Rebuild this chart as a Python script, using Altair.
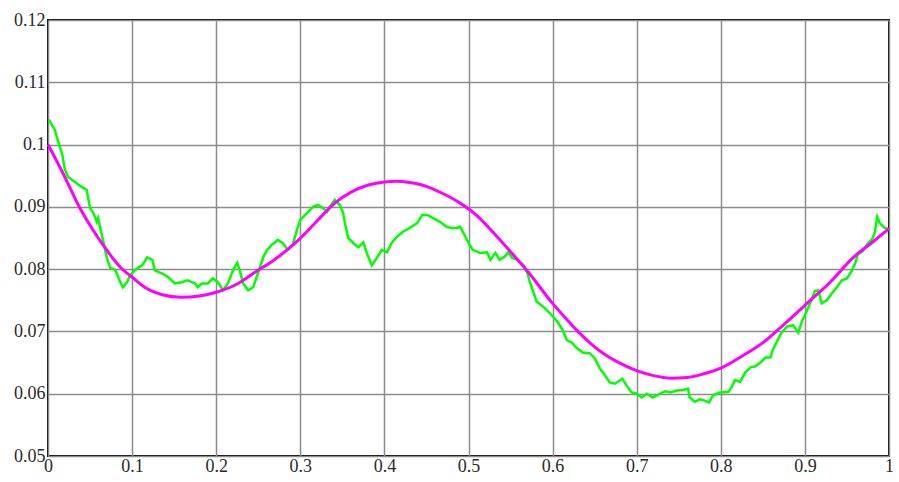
import altair as alt
import pandas as pd

green_x = [0.001, 0.008, 0.012, 0.017, 0.020, 0.024, 0.032, 0.040, 0.046, 0.050, 0.054, 0.058, 0.0595, 0.064,
           0.070, 0.074, 0.080, 0.086, 0.089, 0.094, 0.0975, 0.103, 0.107, 0.112, 0.118, 0.124, 0.127, 0.136,
           0.143, 0.151, 0.159, 0.166, 0.175, 0.178, 0.183, 0.190, 0.196, 0.202, 0.208, 0.214, 0.220, 0.225,
           0.228, 0.232, 0.238, 0.244, 0.248, 0.252, 0.256, 0.260, 0.266, 0.270, 0.273, 0.279, 0.285, 0.291,
           0.296, 0.300, 0.308, 0.315, 0.321, 0.327, 0.332, 0.335, 0.341, 0.347, 0.351, 0.353, 0.357, 0.363,
           0.369, 0.375, 0.379, 0.385, 0.391, 0.397, 0.403, 0.409, 0.415, 0.422, 0.430, 0.439, 0.445, 0.451,
           0.458, 0.466, 0.474, 0.480, 0.486, 0.490, 0.494, 0.500, 0.505, 0.514, 0.522, 0.526, 0.532, 0.537,
           0.543, 0.547, 0.552, 0.558, 0.565, 0.570, 0.573, 0.581, 0.591, 0.599, 0.606, 0.612, 0.617, 0.623,
           0.629, 0.636, 0.644, 0.650, 0.656, 0.662, 0.668, 0.674, 0.683, 0.688, 0.694, 0.700, 0.706, 0.712,
           0.719, 0.728, 0.734, 0.740, 0.748, 0.755, 0.761, 0.763, 0.769, 0.775, 0.781, 0.786, 0.791, 0.799,
           0.809, 0.813, 0.817, 0.823, 0.829, 0.835, 0.841, 0.847, 0.853, 0.859, 0.862, 0.868, 0.872, 0.879,
           0.886, 0.892, 0.897, 0.900, 0.906, 0.912, 0.916, 0.920, 0.926, 0.932, 0.938, 0.944, 0.950, 0.956,
           0.960, 0.963, 0.969, 0.974, 0.980, 0.983, 0.986, 0.989, 0.995, 0.999]
green_y = [0.1040, 0.1024, 0.1005, 0.0984, 0.0960, 0.0948, 0.0940, 0.0932, 0.0927, 0.0898, 0.0890, 0.0876, 0.0882, 0.0855,
           0.0818, 0.0802, 0.0799, 0.0779, 0.0771, 0.0779, 0.0790, 0.0798, 0.0802, 0.0806, 0.0819, 0.0815, 0.0798, 0.0793,
           0.0787, 0.0777, 0.0779, 0.0782, 0.0777, 0.0771, 0.0777, 0.0777, 0.0785, 0.0779, 0.0766, 0.0777, 0.0798, 0.0810,
           0.0798, 0.0777, 0.0766, 0.0771, 0.0787, 0.0803, 0.0819, 0.0830, 0.0839, 0.0843, 0.0847, 0.0842, 0.0831, 0.0839,
           0.0863, 0.0879, 0.0890, 0.0900, 0.0903, 0.0898, 0.0892, 0.0900, 0.0911, 0.0903, 0.0890, 0.0874, 0.0850, 0.0842,
           0.0835, 0.0843, 0.0826, 0.0806, 0.0818, 0.0831, 0.0827, 0.0843, 0.0852, 0.0860, 0.0866, 0.0874, 0.0887, 0.0887,
           0.0882, 0.0876, 0.0868, 0.0866, 0.0866, 0.0868, 0.0858, 0.0842, 0.0831, 0.0826, 0.0827, 0.0815, 0.0826, 0.0815,
           0.0820, 0.0827, 0.0818, 0.0815, 0.0807, 0.0794, 0.0779, 0.0748, 0.0737, 0.0726, 0.0715, 0.0702, 0.0686, 0.0682,
           0.0673, 0.0666, 0.0665, 0.0657, 0.0641, 0.0630, 0.0618, 0.0616, 0.0624, 0.0613, 0.0602, 0.0600, 0.0594, 0.0600,
           0.0594, 0.0600, 0.0604, 0.0602, 0.0605, 0.0606, 0.0608, 0.0594, 0.0587, 0.0591, 0.0589, 0.0586, 0.0598, 0.0602,
           0.0603, 0.0611, 0.0622, 0.0619, 0.0634, 0.0642, 0.0644, 0.0650, 0.0658, 0.0658, 0.0671, 0.0687, 0.0698, 0.0708,
           0.0710, 0.0698, 0.0718, 0.0726, 0.0745, 0.0765, 0.0766, 0.0745, 0.0750, 0.0761, 0.0771, 0.0782, 0.0785, 0.0798,
           0.0810, 0.0824, 0.0829, 0.0840, 0.0848, 0.0858, 0.0884, 0.0874, 0.0866, 0.0865]

magenta_x = [0.0, 0.02, 0.036, 0.052, 0.068, 0.086, 0.1, 0.115, 0.136, 0.158, 0.18, 0.2, 0.226, 0.246, 0.268,
             0.298, 0.321, 0.341, 0.361, 0.381, 0.4, 0.415, 0.43, 0.45, 0.47, 0.49, 0.51, 0.53, 0.55, 0.57,
             0.6, 0.615, 0.63, 0.645, 0.66, 0.68, 0.7, 0.72, 0.74, 0.76, 0.78, 0.8, 0.826, 0.853, 0.870, 0.9,
             0.93, 0.957, 0.981, 1.0]
magenta_y = [0.1000, 0.0948, 0.0903, 0.0866, 0.0834, 0.0803, 0.0787, 0.0771, 0.0759, 0.0755, 0.0757, 0.0763, 0.0777,
             0.0795, 0.0814, 0.0847, 0.0879, 0.0906, 0.0924, 0.0935, 0.0940, 0.0941, 0.0939, 0.0933, 0.0921, 0.0906,
             0.0886, 0.0858, 0.0828, 0.0797, 0.0745, 0.0722, 0.0700, 0.0681, 0.0665, 0.0649, 0.0637, 0.0629, 0.0625,
             0.0626, 0.0632, 0.0641, 0.0661, 0.0685, 0.0705, 0.0742, 0.0779, 0.0818, 0.0844, 0.0865]

x_ticks = [0, 0.1, 0.2, 0.3, 0.4, 0.5, 0.6, 0.7, 0.8, 0.9, 1]
y_ticks = [0.05, 0.06, 0.07, 0.08, 0.09, 0.1, 0.11, 0.12]

green_df = pd.DataFrame({"x": green_x, "y": green_y})
magenta_df = pd.DataFrame({"x": magenta_x, "y": magenta_y})

xs = alt.Scale(domain=[0, 1], nice=False, zero=False)
ys = alt.Scale(domain=[0.05, 0.12], nice=False, zero=False)

SERIF = "Liberation Serif"

x_axis = alt.Axis(values=x_ticks, format=".1~f", title=None, labelPadding=1, labelAngle=0)
y_axis = alt.Axis(values=y_ticks, format=".2~f", title=None, labelPadding=3)

green = alt.Chart(green_df).mark_line(color="#00ff00", strokeWidth=2.5).encode(
    x=alt.X("x:Q", scale=xs, axis=x_axis),
    y=alt.Y("y:Q", scale=ys, axis=y_axis),
)
magenta = alt.Chart(magenta_df).mark_line(color="#ff00ff", strokeWidth=3, interpolate="monotone").encode(
    x=alt.X("x:Q", scale=xs, axis=x_axis),
    y=alt.Y("y:Q", scale=ys, axis=y_axis),
)

chart = alt.layer(green, magenta).properties(
    width=841, height=436,
    autosize=alt.AutoSizeParams(type="none"),
    padding={"left": 48, "top": 20, "right": 10, "bottom": 26},
    background="white",
).configure_view(
    stroke="#000000", strokeWidth=2
).configure_axis(
    labelFont=SERIF, labelFontSize=18, labelColor="#2a2a2a", labelFlush=False,
    grid=True, gridColor="#8c8c8c", gridWidth=1.5, domain=False, ticks=False,
)

chart.save("out.html", embed_options={"renderer": "svg", "actions": False})
